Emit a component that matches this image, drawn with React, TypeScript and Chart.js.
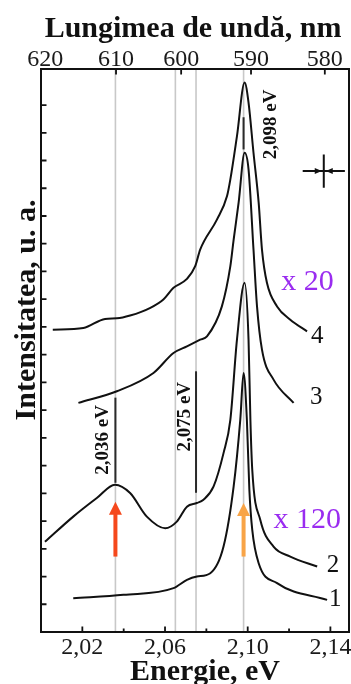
import React, { useEffect, useRef } from "react";
import { Chart, registerables } from "chart.js";

Chart.register(...registerables);

const FONT = "'Liberation Serif', 'Times New Roman', Times, serif";

// ---- spectra (energy in eV, intensity in arb. units) ----
const curve1E = [2.0156, 2.0399, 2.0641, 2.0706, 2.0754, 2.0819, 2.0883, 2.0932, 2.0964, 2.098, 2.0996, 2.1008, 2.1022, 2.1053, 2.1142, 2.1384];
const curve1I = [1.22, 1.34, 1.58, 1.88, 2.0, 2.12, 3.08, 5.25, 7.65, 9.34, 7.65, 5.13, 3.68, 2.48, 1.76, 1.16];

const curve2E = [2.0019, 2.0156, 2.027, 2.0358, 2.0431, 2.0512, 2.0601, 2.0657, 2.0706, 2.0754, 2.0786, 2.0835, 2.0883, 2.0916, 2.0948, 2.0985, 2.1004, 2.1013, 2.1022, 2.1061, 2.1125, 2.1206, 2.1336];
const curve2I = [3.25, 4.16, 4.83, 5.31, 5.01, 4.16, 3.74, 3.98, 4.52, 4.65, 4.77, 5.25, 6.45, 7.65, 10.54, 12.59, 10.54, 7.65, 5.85, 4.04, 3.08, 2.72, 2.36];

const curve3E = [2.0181, 2.0367, 2.0544, 2.0641, 2.0706, 2.077, 2.0803, 2.0875, 2.0916, 2.0932, 2.0956, 2.0985, 2.1004, 2.1028, 2.1045, 2.1069, 2.1125, 2.1222];
const curve3I = [8.26, 8.68, 9.34, 10.06, 10.3, 10.54, 10.66, 11.74, 13.19, 14.15, 15.48, 17.28, 16.68, 13.79, 11.74, 10.18, 9.1, 8.26];

const curve4E = [2.0057, 2.0205, 2.031, 2.0367, 2.0431, 2.0529, 2.0592, 2.0641, 2.0706, 2.0746, 2.077, 2.0851, 2.09, 2.0916, 2.0948, 2.0985, 2.1004, 2.1028, 2.1053, 2.1069, 2.1093, 2.1142, 2.1206, 2.1287];
const curve4I = [10.9, 10.96, 11.29, 11.31, 11.41, 11.69, 11.99, 12.41, 12.73, 13.19, 13.79, 14.87, 15.72, 16.32, 17.88, 19.81, 19.09, 17.28, 15.48, 13.79, 12.59, 11.74, 11.26, 10.84];

// ---- axes ----
const energyMin = 2.0;
const energyMax = 2.149;
const intensityMin = 0;
const intensityMax = 20.3;
const energyTicks = [2.02, 2.04, 2.06, 2.08, 2.1, 2.12, 2.14];
const energyTickLabels = ["2,02", "", "2,06", "", "2,10", "", "2,14"];
const wavelengthTickEnergy = [2.002, 2.0363, 2.0678, 2.1016, 2.1373];
const wavelengthLabels = ["620", "610", "600", "590", "580"];
const intensityTicks = [1, 2, 3, 4, 5, 6, 7, 8, 9, 10, 11, 12, 13, 14, 15, 16, 17, 18, 19];

// ---- annotations ----
const referenceLines = [2.036, 2.065, 2.075, 2.098];
const markerE = [2.036, 2.075, 2.098];
const markerFrom = [5.38, 5.02, 17.4];
const markerTo = [8.45, 9.4, 18.56];
const markerLabels = ["2,036 eV", "2,075 eV", "2,098 eV"];
const markerLabelE = [2.0298, 2.0698, 2.1114];
const markerLabelI = [6.93, 7.76, 18.3];

const curveLabels = ["1", "2", "3", "4"];
const curveLabelE = [2.1424, 2.1412, 2.1332, 2.1336];
const curveLabelI = [1.19, 2.39, 8.47, 10.66];

const factorLabels = ["x 20", "x 120"];
const factorLabelE = [2.1289, 2.1288];
const factorLabelI = [12.62, 4.04];

const arrowE = [2.036, 2.098];
const arrowFrom = [2.72, 2.72];
const arrowTo = [4.7, 4.65];
const arrowColors = ["#f5481c", "#f8a447"];

const crossE = 2.1368;
const crossI = 16.62;
const crossDE = 0.0102;
const crossDI = 0.6;

const xTitle = "Energie, eV";
const x2Title = "Lungimea de undă, nm";
const yTitle = "Intensitatea, u. a.";

const pts = (es: number[], is: number[]) => es.map((e, i) => ({ x: e, y: is[i] }));

const decorPlugin = {
  id: "decor",
  beforeDatasetsDraw(chart: any) {
    const { ctx, chartArea: a, scales } = chart;
    const x = scales.x;
    ctx.save();
    ctx.strokeStyle = "#c8c8c8";
    ctx.lineWidth = 1.6;
    referenceLines.forEach((e) => {
      const px = x.getPixelForValue(e);
      ctx.beginPath();
      ctx.moveTo(px, a.top);
      ctx.lineTo(px, a.bottom);
      ctx.stroke();
    });
    ctx.restore();
  },
  afterDatasetsDraw(chart: any) {
    const { ctx, chartArea: a, scales } = chart;
    const x = scales.x;
    const y = scales.y;
    ctx.save();

    // marker segments
    ctx.strokeStyle = "#2a2a2a";
    ctx.lineWidth = 2;
    markerE.forEach((e, i) => {
      const px = x.getPixelForValue(e);
      ctx.beginPath();
      ctx.moveTo(px, y.getPixelForValue(markerFrom[i]));
      ctx.lineTo(px, y.getPixelForValue(markerTo[i]));
      ctx.stroke();
    });

    // arrows
    arrowE.forEach((e, i) => {
      const px = x.getPixelForValue(e);
      const tail = y.getPixelForValue(arrowFrom[i]);
      const tip = y.getPixelForValue(arrowTo[i]);
      const head = 13;
      const half = 6.5;
      ctx.fillStyle = arrowColors[i];
      ctx.fillRect(px - 2, tip + head - 1, 4, tail - (tip + head - 1));
      ctx.beginPath();
      ctx.moveTo(px, tip);
      ctx.lineTo(px - half, tip + head);
      ctx.lineTo(px + half, tip + head);
      ctx.closePath();
      ctx.fill();
    });

    // error cross
    const cx = x.getPixelForValue(crossE);
    const cy = y.getPixelForValue(crossI);
    const hx = x.getPixelForValue(crossE + crossDE) - cx;
    const hy = cy - y.getPixelForValue(crossI + crossDI);
    ctx.strokeStyle = "#111";
    ctx.fillStyle = "#111";
    ctx.lineWidth = 2;
    ctx.beginPath();
    ctx.moveTo(cx - hx, cy);
    ctx.lineTo(cx + hx, cy);
    ctx.moveTo(cx, cy - hy);
    ctx.lineTo(cx, cy + hy);
    ctx.stroke();
    [-1, 1].forEach((s) => {
      ctx.beginPath();
      ctx.moveTo(cx + s * 2, cy);
      ctx.lineTo(cx + s * 9, cy - 3);
      ctx.lineTo(cx + s * 9, cy + 3);
      ctx.closePath();
      ctx.fill();
    });

    // frame
    ctx.strokeStyle = "#111";
    ctx.lineWidth = 2;
    ctx.strokeRect(a.left, a.top, a.right - a.left, a.bottom - a.top);

    // tick marks (inward)
    ctx.lineWidth = 1.8;
    ctx.beginPath();
    energyTicks.forEach((e, i) => {
      const px = x.getPixelForValue(e);
      const len = energyTickLabels[i] ? 5.5 : 3.5;
      ctx.moveTo(px, a.bottom);
      ctx.lineTo(px, a.bottom - len);
    });
    wavelengthTickEnergy.forEach((e, i) => {
      if (i === 0) return;
      const px = x.getPixelForValue(e);
      ctx.moveTo(px, a.top);
      ctx.lineTo(px, a.top + 5.5);
    });
    intensityTicks.forEach((v) => {
      const py = y.getPixelForValue(v);
      ctx.moveTo(a.left, py);
      ctx.lineTo(a.left + 5.5, py);
    });
    ctx.stroke();

    // rotated marker labels
    ctx.fillStyle = "#111";
    ctx.font = `bold 19px ${FONT}`;
    ctx.textAlign = "center";
    ctx.textBaseline = "middle";
    markerLabels.forEach((t, i) => {
      ctx.save();
      ctx.translate(x.getPixelForValue(markerLabelE[i]), y.getPixelForValue(markerLabelI[i]));
      ctx.rotate(-Math.PI / 2);
      ctx.fillText(t, 0, 0);
      ctx.restore();
    });

    // curve numbers
    ctx.font = `25px ${FONT}`;
    ctx.fillStyle = "#111";
    curveLabels.forEach((t, i) => {
      ctx.fillText(t, x.getPixelForValue(curveLabelE[i]), y.getPixelForValue(curveLabelI[i]));
    });

    // multiplication factors
    ctx.font = `30px ${FONT}`;
    ctx.fillStyle = "#9a2cf0";
    factorLabels.forEach((t, i) => {
      ctx.fillText(t, x.getPixelForValue(factorLabelE[i]), y.getPixelForValue(factorLabelI[i]));
    });

    // axis titles
    ctx.fillStyle = "#111";
    ctx.font = `bold 30px ${FONT}`;
    ctx.textBaseline = "alphabetic";
    ctx.fillText(x2Title, 193, 37);
    ctx.fillText(xTitle, 205, 680);
    ctx.save();
    ctx.translate(35, 310);
    ctx.rotate(-Math.PI / 2);
    ctx.fillText(yTitle, 0, 0);
    ctx.restore();

    ctx.restore();
  },
};

export default function App() {
  const ref = useRef<HTMLCanvasElement | null>(null);

  useEffect(() => {
    document.body.style.margin = "0";
    const canvas = ref.current;
    if (!canvas) return;
    const lineStyle = {
      borderColor: "#111",
      borderWidth: 2,
      pointRadius: 0,
      fill: false,
      cubicInterpolationMode: "monotone" as const,
    };
    const chart = new Chart(canvas, {
      type: "line",
      data: {
        datasets: [
          { label: "1", data: pts(curve1E, curve1I), ...lineStyle },
          { label: "2", data: pts(curve2E, curve2I), ...lineStyle },
          { label: "3", data: pts(curve3E, curve3I), ...lineStyle },
          { label: "4", data: pts(curve4E, curve4I), ...lineStyle },
        ],
      },
      options: {
        animation: false,
        responsive: false,
        devicePixelRatio: 1,
        parsing: false as any,
        layout: { padding: { left: 0, right: 2, top: 0, bottom: 0 } },
        plugins: { legend: { display: false }, tooltip: { enabled: false } },
        scales: {
          x: {
            type: "linear",
            position: "bottom",
            min: energyMin,
            max: energyMax,
            afterBuildTicks: (s: any) => {
              s.ticks = energyTicks.map((v) => ({ value: v }));
            },
            afterFit: (s: any) => {
              s.height = 52;
              s.paddingLeft = 0;
              s.paddingRight = 0;
            },
            ticks: {
              autoSkip: false,
              maxRotation: 0,
              padding: 1,
              color: "#1a1a1a",
              font: { family: FONT, size: 24 },
              callback: (_v: any, i: number) => energyTickLabels[i],
            },
            grid: { display: false, drawTicks: false },
            border: { display: false },
          },
          x2: {
            type: "linear",
            position: "top",
            min: energyMin,
            max: energyMax,
            afterBuildTicks: (s: any) => {
              s.ticks = wavelengthTickEnergy.map((v) => ({ value: v }));
            },
            afterFit: (s: any) => {
              s.height = 69;
              s.paddingLeft = 0;
              s.paddingRight = 0;
            },
            ticks: {
              autoSkip: false,
              maxRotation: 0,
              padding: -5,
              color: "#1a1a1a",
              font: { family: FONT, size: 24 },
              callback: (_v: any, i: number) => wavelengthLabels[i],
            },
            grid: { display: false, drawTicks: false },
            border: { display: false },
          },
          y: {
            type: "linear",
            position: "left",
            min: intensityMin,
            max: intensityMax,
            afterFit: (s: any) => {
              s.width = 41;
              s.paddingTop = 0;
              s.paddingBottom = 0;
            },
            ticks: { display: false },
            grid: { display: false, drawTicks: false },
            border: { display: false },
          },
        },
      },
      plugins: [decorPlugin],
    } as any);
    return () => chart.destroy();
  }, []);

  return (
    <div style={{ position: "fixed", left: 0, top: 0, width: 351, height: 684, background: "#fff" }}>
      <canvas ref={ref} width={351} height={684} style={{ display: "block" }} />
    </div>
  );
}
